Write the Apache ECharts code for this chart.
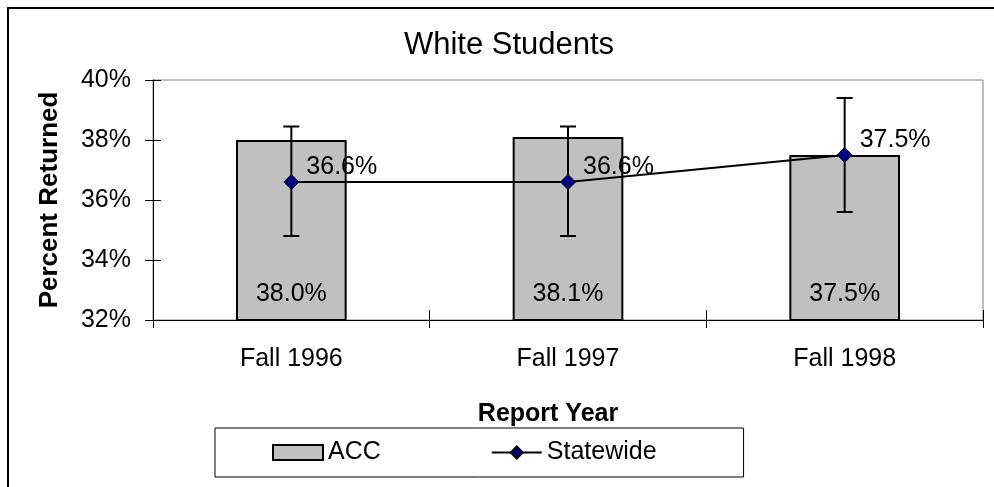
<!DOCTYPE html>
<html>
<head>
<meta charset="utf-8">
<script src="https://cdn.jsdelivr.net/npm/echarts@6/dist/echarts.min.js"></script>
<style>
html,body{margin:0;padding:0;background:#fff;}
#chart{width:994px;height:487px;}
</style>
</head>
<body>
<div id="chart"></div>
<script>
// Data
var categories = ['Fall 1996', 'Fall 1997', 'Fall 1998'];
var accValues = [38.0, 38.1, 37.5];
var statewideValues = [36.6, 36.6, 37.5];
var errorLow = [34.8, 34.8, 35.6];
var errorHigh = [38.45, 38.45, 39.4];
var yTicks = { min: 32, max: 40, interval: 2 };

var FONT = 'Liberation Sans';
var chart = echarts.init(document.getElementById('chart'), null, { renderer: 'canvas' });

var errData = categories.map(function (c, i) { return [i, errorLow[i], errorHigh[i]]; });

var option = {
  backgroundColor: '#fff',
  animation: false,
  textStyle: { fontFamily: FONT, color: '#000' },
  title: {
    text: 'White Students',
    left: 504, top: 25, textAlign: 'center',
    textStyle: { fontFamily: FONT, fontSize: 31, fontWeight: 'normal', color: '#000' }
  },
  grid: {
    left: 153, top: 80, right: 11, bottom: 167,
    show: true, borderColor: '#808080', borderWidth: 1, backgroundColor: '#fff'
  },
  legend: {
    left: 215, top: 428,
    padding: [12, 87, 12, 57],
    itemGap: 110,
    itemWidth: 50, itemHeight: 15,
    borderColor: '#000', borderWidth: 1,
    textStyle: { fontFamily: FONT, fontSize: 25, color: '#000' },
    data: [{ name: 'ACC', icon: 'rect' }, { name: 'Statewide' }]
  },
  xAxis: [{
    type: 'category', data: categories, position: 'bottom',
    name: 'Report Year', nameLocation: 'middle', nameGap: 82,
    nameTextStyle: { fontFamily: FONT, fontSize: 25, fontWeight: 'bold', color: '#000',
      padding: [0, 40, 0, 0] },
    axisLine: { show: true, lineStyle: { color: '#000', width: 1 } },
    axisTick: { show: true, inside: false, length: 8, lineStyle: { color: '#000' } },
    axisLabel: { fontFamily: FONT, fontSize: 25, color: '#000', margin: 27 }
  }, {
    type: 'category', data: categories, position: 'bottom',
    axisLine: { show: false },
    axisTick: { show: true, inside: true, length: 10, lineStyle: { color: '#000' } },
    axisLabel: { show: false }
  }],
  yAxis: [{
    type: 'value', min: yTicks.min, max: yTicks.max, interval: yTicks.interval,
    name: 'Percent Returned', nameLocation: 'middle', nameGap: 90, nameRotate: 90,
    nameTextStyle: { fontFamily: FONT, fontSize: 26, fontWeight: 'bold', color: '#000' },
    axisLine: { show: true, lineStyle: { color: '#000', width: 1 } },
    axisTick: { show: true, inside: false, length: 8, lineStyle: { color: '#000' } },
    axisLabel: { fontFamily: FONT, fontSize: 25, color: '#000', margin: 22,
      formatter: function (v) { return v + '%'; } },
    splitLine: { show: false }
  }, {
    type: 'value', min: yTicks.min, max: yTicks.max, interval: yTicks.interval,
    position: 'left',
    axisLine: { show: false },
    axisTick: { show: true, inside: true, length: 8, lineStyle: { color: '#000' } },
    axisLabel: { show: false },
    splitLine: { show: false }
  }],
  series: [{
    name: 'ACC', type: 'bar', data: accValues, barWidth: '40%',
    itemStyle: { color: '#C0C0C0', borderColor: '#000', borderWidth: 2 },
    label: { show: true, position: 'insideBottom', distance: 14,
      fontFamily: FONT, fontSize: 25, color: '#000',
      formatter: function (p) { return p.value.toFixed(1) + '%'; } },
    z: 2
  }, {
    name: 'ErrorBars', type: 'custom', data: errData, z: 3,
    renderItem: function (params, api) {
      var x = api.value(0);
      var lo = api.coord([x, api.value(1)]);
      var hi = api.coord([x, api.value(2)]);
      var hw = 8;
      var st = { stroke: '#000', lineWidth: 2 };
      return { type: 'group', children: [
        { type: 'line', shape: { x1: lo[0], y1: lo[1], x2: hi[0], y2: hi[1] }, style: st },
        { type: 'line', shape: { x1: lo[0] - hw, y1: lo[1], x2: lo[0] + hw, y2: lo[1] }, style: st },
        { type: 'line', shape: { x1: hi[0] - hw, y1: hi[1], x2: hi[0] + hw, y2: hi[1] }, style: st }
      ]};
    },
    encode: { x: 0, y: [1, 2] },
    silent: true
  }, {
    name: 'Statewide', type: 'line', data: statewideValues, z: 4,
    symbol: 'diamond', symbolSize: 15,
    lineStyle: { color: '#000', width: 2 },
    itemStyle: { color: '#000080', borderColor: '#000', borderWidth: 1 },
    label: { show: true, position: 'right', distance: 7, offset: [0, -15],
      fontFamily: FONT, fontSize: 25, color: '#000',
      formatter: function (p) { return p.value.toFixed(1) + '%'; } }
  }],
  graphic: [{
    type: 'rect', silent: true, z: 100,
    shape: { x: 8, y: 8, width: 1000, height: 500 },
    style: { fill: 'none', stroke: '#000', lineWidth: 2 }
  }]
};
chart.setOption(option);
</script>
</body>
</html>
